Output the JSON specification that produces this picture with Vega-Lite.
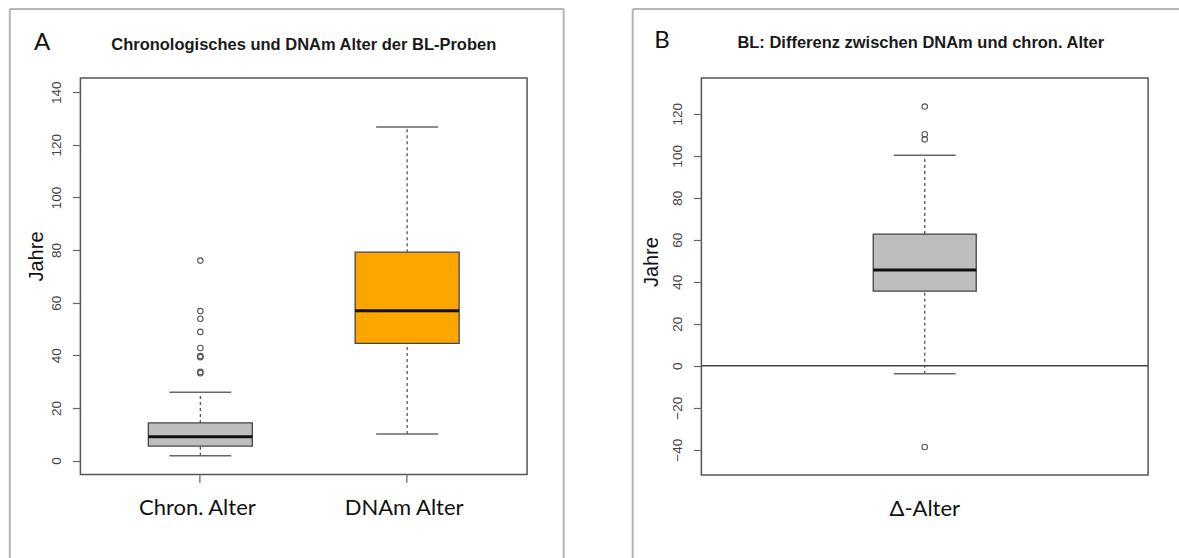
{
  "$schema": "https://vega.github.io/schema/vega-lite/v6.json",
  "padding": {"left": 7.4, "top": 7, "right": 0, "bottom": 0},
  "background": "white",
  "spacing": 64,
  "config": {
    "view": {"stroke": "#555555", "strokeWidth": 1.5},
    "font": "Liberation Sans",
    "axis": {"grid": false}
  },
  "datasets": {
    "boxesA": [
      {"group": "Chron. Alter", "lower": 1.8, "q1": 5.5, "median": 9.0, "q3": 14.3, "upper": 26.0},
      {"group": "DNAm Alter", "lower": 10.1, "q1": 44.5, "median": 56.9, "q3": 79.2, "upper": 126.8}
    ],
    "outA": [
      {"group": "Chron. Alter", "value": 76.0},
      {"group": "Chron. Alter", "value": 56.8},
      {"group": "Chron. Alter", "value": 53.9},
      {"group": "Chron. Alter", "value": 48.9},
      {"group": "Chron. Alter", "value": 42.8},
      {"group": "Chron. Alter", "value": 39.7},
      {"group": "Chron. Alter", "value": 39.3},
      {"group": "Chron. Alter", "value": 33.7},
      {"group": "Chron. Alter", "value": 33.2}
    ],
    "boxesB": [
      {"group": "Δ-Alter", "lower": -3.8, "q1": 35.5, "median": 45.6, "q3": 62.7, "upper": 100.2}
    ],
    "outB": [
      {"group": "Δ-Alter", "value": 123.4},
      {"group": "Δ-Alter", "value": 110.2},
      {"group": "Δ-Alter", "value": 107.8},
      {"group": "Δ-Alter", "value": -38.7}
    ],
    "one": [{}]
  },
  "hconcat": [
    {
      "width": 446.7,
      "height": 396.5,
      "layer": [
        {
          "data": {"name": "boxesA"},
          "mark": {"type": "rule", "strokeDash": [3, 3], "color": "#555555", "strokeWidth": 1.3},
          "encoding": {
            "x": {"field": "group", "type": "nominal", "sort": null, "title": null,
              "scale": {"domain": ["Chron. Alter", "DNAm Alter"], "paddingInner": 0, "paddingOuter": 0.08},
              "axis": {"domain": false, "ticks": true, "tickSize": 8, "tickColor": "#666666", "tickWidth": 1.2, "labelFont": "Lato", "labelFontSize": 22, "labelColor": "#111111", "labelPadding": 25.5, "labelBaseline": "middle", "labelAngle": 0, "labelOffset": -3}},
            "y": {"field": "q3", "type": "quantitative", "title": "Jahre",
              "scale": {"domain": [-5.3, 145.4], "nice": false, "zero": false},
              "axis": {"values": [0, 20, 40, 60, 80, 100, 120, 140], "domain": false, "tickSize": 8, "tickColor": "#666666", "tickWidth": 1.2, "labelAngle": 270, "labelAlign": "center", "labelBaseline": "alphabetic", "labelPadding": 12, "labelFont": "Liberation Sans", "labelFontSize": 13.5, "labelColor": "#444444", "titleFont": "Liberation Sans", "titleFontSize": 20, "titleFontWeight": "normal", "titleColor": "#111111", "titleAngle": 270, "titleAlign": "center", "titleBaseline": "alphabetic", "titleX": -38.3, "titleY": 178}},
            "y2": {"field": "upper"}
          }
        },
        {
          "data": {"name": "boxesA"},
          "mark": {"type": "rule", "strokeDash": [3, 3], "color": "#555555", "strokeWidth": 1.3},
          "encoding": {
            "x": {"field": "group", "type": "nominal", "sort": null, "title": null},
            "y": {"field": "lower", "type": "quantitative", "title": "Jahre"},
            "y2": {"field": "q1"}
          }
        },
        {
          "data": {"name": "boxesA"},
          "mark": {"type": "tick", "size": 62, "thickness": 1.5, "color": "#666666", "opacity": 1},
          "encoding": {
            "x": {"field": "group", "type": "nominal", "sort": null, "title": null},
            "y": {"field": "upper", "type": "quantitative", "title": "Jahre"}
          }
        },
        {
          "data": {"name": "boxesA"},
          "mark": {"type": "tick", "size": 62, "thickness": 1.5, "color": "#666666", "opacity": 1},
          "encoding": {
            "x": {"field": "group", "type": "nominal", "sort": null, "title": null},
            "y": {"field": "lower", "type": "quantitative", "title": "Jahre"}
          }
        },
        {
          "data": {"name": "boxesA"},
          "mark": {"type": "bar", "width": 104, "stroke": "#444444", "strokeWidth": 1.3, "opacity": 1},
          "encoding": {
            "x": {"field": "group", "type": "nominal", "sort": null, "title": null},
            "y": {"field": "q1", "type": "quantitative", "title": "Jahre"},
            "y2": {"field": "q3"},
            "color": {"field": "group", "type": "nominal", "legend": null,
              "scale": {"domain": ["Chron. Alter", "DNAm Alter"], "range": ["#bebebe", "#ffa500"]}}
          }
        },
        {
          "data": {"name": "boxesA"},
          "mark": {"type": "tick", "size": 104, "thickness": 3, "color": "#111111", "opacity": 1},
          "encoding": {
            "x": {"field": "group", "type": "nominal", "sort": null, "title": null},
            "y": {"field": "median", "type": "quantitative", "title": "Jahre"}
          }
        },
        {
          "data": {"name": "outA"},
          "mark": {"type": "point", "shape": "circle", "filled": false, "size": 30, "stroke": "#555555", "strokeWidth": 1.1, "opacity": 1},
          "encoding": {
            "x": {"field": "group", "type": "nominal", "sort": null, "title": null},
            "y": {"field": "value", "type": "quantitative", "title": "Jahre"}
          }
        },
        {
          "data": {"name": "one"},
          "mark": {"type": "rule", "color": "#b4b4b4", "strokeWidth": 2},
          "encoding": {
            "x": {"datum": "Chron. Alter", "bandPosition": -0.4214, "title": null},
            "x2": {"datum": "DNAm Alter", "bandPosition": 1.257},
            "y": {"datum": 171.6, "title": "Jahre"}
          }
        },
        {
          "data": {"name": "one"},
          "mark": {"type": "rule", "color": "#b4b4b4", "strokeWidth": 2},
          "encoding": {
            "x": {"datum": "Chron. Alter", "bandPosition": -0.4214, "title": null},
            "y": {"datum": 171.6, "title": "Jahre"},
            "y2": {"datum": -37.4}
          }
        },
        {
          "data": {"name": "one"},
          "mark": {"type": "rule", "color": "#b4b4b4", "strokeWidth": 2},
          "encoding": {
            "x": {"datum": "DNAm Alter", "bandPosition": 1.257, "title": null},
            "y": {"datum": 171.6, "title": "Jahre"},
            "y2": {"datum": -37.4}
          }
        },
        {
          "data": {"name": "one"},
          "mark": {"type": "text", "text": "A", "font": "Lato", "fontSize": 24, "align": "left", "baseline": "alphabetic", "color": "#111111"},
          "encoding": {
            "x": {"datum": "Chron. Alter", "bandPosition": -0.3049, "title": null},
            "y": {"datum": 156.0, "title": "Jahre"}
          }
        },
        {
          "data": {"name": "one"},
          "mark": {"type": "text", "text": "Chronologisches und DNAm Alter der BL-Proben", "font": "Liberation Sans", "fontSize": 16.5, "fontWeight": "bold", "align": "center", "baseline": "alphabetic", "color": "#1a1a1a"},
          "encoding": {
            "x": {"datum": "DNAm Alter", "bandPosition": 0, "title": null},
            "y": {"datum": 156.2, "title": "Jahre"}
          }
        }
      ]
    },
    {
      "width": 446.7,
      "height": 397,
      "layer": [
        {
          "data": {"name": "boxesB"},
          "mark": {"type": "rule", "strokeDash": [3, 3], "color": "#555555", "strokeWidth": 1.3},
          "encoding": {
            "x": {"field": "group", "type": "nominal", "sort": null, "title": null,
              "scale": {"domain": ["Δ-Alter"], "paddingInner": 0, "paddingOuter": 0},
              "axis": {"domain": false, "ticks": false, "tickSize": 0, "labelFont": "Lato", "labelFontSize": 22, "labelColor": "#111111", "labelPadding": 33.5, "labelBaseline": "middle", "labelAngle": 0, "labelOffset": 0}},
            "y": {"field": "q3", "type": "quantitative", "title": "Jahre",
              "scale": {"domain": [-52, 137], "nice": false, "zero": false},
              "axis": {"values": [-40, -20, 0, 20, 40, 60, 80, 100, 120], "domain": false, "tickSize": 8, "tickColor": "#666666", "tickWidth": 1.2, "labelAngle": 270, "labelAlign": "center", "labelBaseline": "alphabetic", "labelPadding": 12, "labelFont": "Liberation Sans", "labelFontSize": 13.5, "labelColor": "#444444", "titleFont": "Liberation Sans", "titleFontSize": 20, "titleFontWeight": "normal", "titleColor": "#111111", "titleAngle": 270, "titleAlign": "center", "titleBaseline": "alphabetic", "titleX": -44.3, "titleY": 183.6}},
            "y2": {"field": "upper"}
          }
        },
        {
          "data": {"name": "boxesB"},
          "mark": {"type": "rule", "strokeDash": [3, 3], "color": "#555555", "strokeWidth": 1.3},
          "encoding": {
            "x": {"field": "group", "type": "nominal", "sort": null, "title": null},
            "y": {"field": "lower", "type": "quantitative", "title": "Jahre"},
            "y2": {"field": "q1"}
          }
        },
        {
          "data": {"name": "boxesB"},
          "mark": {"type": "tick", "size": 62, "thickness": 1.5, "color": "#666666", "opacity": 1},
          "encoding": {
            "x": {"field": "group", "type": "nominal", "sort": null, "title": null},
            "y": {"field": "upper", "type": "quantitative", "title": "Jahre"}
          }
        },
        {
          "data": {"name": "boxesB"},
          "mark": {"type": "tick", "size": 62, "thickness": 1.5, "color": "#666666", "opacity": 1},
          "encoding": {
            "x": {"field": "group", "type": "nominal", "sort": null, "title": null},
            "y": {"field": "lower", "type": "quantitative", "title": "Jahre"}
          }
        },
        {
          "data": {"name": "boxesB"},
          "mark": {"type": "bar", "width": 103, "stroke": "#444444", "strokeWidth": 1.3, "color": "#bebebe", "opacity": 1},
          "encoding": {
            "x": {"field": "group", "type": "nominal", "sort": null, "title": null},
            "y": {"field": "q1", "type": "quantitative", "title": "Jahre"},
            "y2": {"field": "q3"}
          }
        },
        {
          "data": {"name": "boxesB"},
          "mark": {"type": "tick", "size": 103, "thickness": 3, "color": "#111111", "opacity": 1},
          "encoding": {
            "x": {"field": "group", "type": "nominal", "sort": null, "title": null},
            "y": {"field": "median", "type": "quantitative", "title": "Jahre"}
          }
        },
        {
          "data": {"name": "outB"},
          "mark": {"type": "point", "shape": "circle", "filled": false, "size": 30, "stroke": "#555555", "strokeWidth": 1.1, "opacity": 1},
          "encoding": {
            "x": {"field": "group", "type": "nominal", "sort": null, "title": null},
            "y": {"field": "value", "type": "quantitative", "title": "Jahre"}
          }
        },
        {
          "data": {"name": "one"},
          "mark": {"type": "rule", "color": "#444444", "strokeWidth": 1.3},
          "encoding": {
            "y": {"datum": 0, "title": "Jahre"}
          }
        },
        {
          "data": {"name": "one"},
          "mark": {"type": "rule", "color": "#b4b4b4", "strokeWidth": 2},
          "encoding": {
            "x": {"datum": "Δ-Alter", "bandPosition": -0.1538, "title": null},
            "x2": {"datum": "Δ-Alter", "bandPosition": 1.0701},
            "y": {"datum": 169.85, "title": "Jahre"}
          }
        },
        {
          "data": {"name": "one"},
          "mark": {"type": "rule", "color": "#b4b4b4", "strokeWidth": 2},
          "encoding": {
            "x": {"datum": "Δ-Alter", "bandPosition": -0.1538, "title": null},
            "y": {"datum": 169.85, "title": "Jahre"},
            "y2": {"datum": -92.0}
          }
        },
        {
          "data": {"name": "one"},
          "mark": {"type": "text", "text": "B", "font": "Lato", "fontSize": 24, "align": "left", "baseline": "alphabetic", "color": "#111111"},
          "encoding": {
            "x": {"datum": "Δ-Alter", "bandPosition": -0.1054, "title": null},
            "y": {"datum": 151.3, "title": "Jahre"}
          }
        },
        {
          "data": {"name": "one"},
          "mark": {"type": "text", "text": "BL: Differenz zwischen DNAm und chron. Alter", "font": "Liberation Sans", "fontSize": 16.5, "fontWeight": "bold", "align": "center", "baseline": "alphabetic", "color": "#1a1a1a"},
          "encoding": {
            "x": {"datum": "Δ-Alter", "bandPosition": 0.491, "title": null},
            "y": {"datum": 151.3, "title": "Jahre"}
          }
        }
      ]
    }
  ]
}
